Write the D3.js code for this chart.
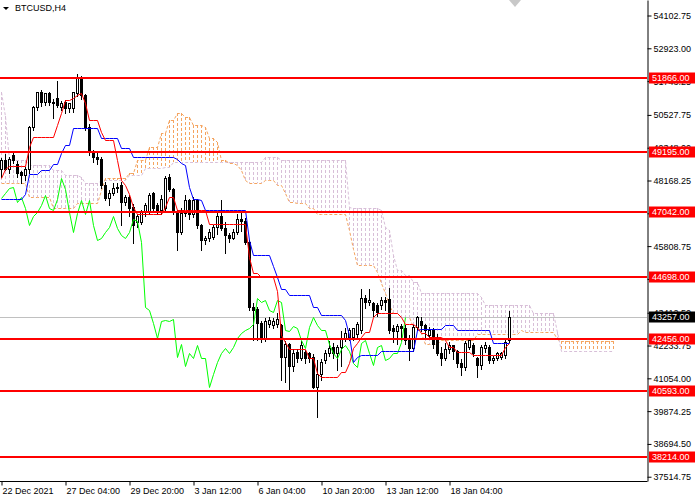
<!DOCTYPE html>
<html>
<head>
<meta charset="utf-8">
<script src="https://cdn.jsdelivr.net/npm/d3@7"></script>
<style>
  body { margin: 0; background: #fff; }
  svg { display: block; font-family: "Liberation Sans", Arial, sans-serif; }
</style>
</head>
<body>
<svg id="chart" width="700" height="500"></svg>
<script>
// BTCUSD H4 candles (bar 0 = 22 Dec 2021 00:00)
const opens = [48600,48900,48600,49080,48780,48480,48370,48600,50100,50820,51360,51000,51300,51000,51120,50830,51000,50760,50760,51300,
  51840,51240,50100,49150,49030,48960,48010,47530,47710,47890,48010,47410,47590,47230,46690,46690,47050,47050,47710,47290,
  47110,47170,48300,47880,47050,46330,47000,47460,46950,47460,46570,46030,46090,46150,46500,46900,46450,46200,46100,46300,
  46800,46700,45970,43630,43540,43030,42490,43000,42970,43000,42970,41830,42300,41500,42010,41770,42010,41950,41830,40750,
  41200,41710,41950,42190,41950,42190,42490,42550,42550,42650,42790,43930,43810,43750,43690,43690,43870,43900,42850,42760,
  42950,42850,42450,42130,42900,43100,42970,42610,42790,42500,41950,41770,42100,42250,42050,41600,41470,42190,42250,41770,
  41530,42130,42190,41710,41770,41830,41890,42430];
const highs = [49000,49150,49050,49250,48900,48550,48700,50150,50900,51400,51450,51350,51400,51150,51800,51050,51100,51000,51400,52050,
  51950,51300,50250,49300,49260,49050,48150,47850,48100,48100,48150,47700,47700,47350,47000,47150,47400,47750,47800,47400,
  47700,48370,48450,47950,47150,47200,47700,47550,47600,47550,46650,46200,46450,46600,47050,47520,46700,46300,46450,47000,
  47050,46850,46050,43800,43650,43150,43250,43300,43250,43450,43050,42450,42350,42150,42150,42450,42100,42050,41950,41750,
  41800,42100,42450,42350,42300,42800,42900,42900,42900,43100,44290,44100,44290,43850,43800,44000,44000,44350,43000,43050,
  43050,43000,42650,43000,43330,43300,43050,42950,42900,42700,42200,42350,42400,42300,42100,41800,42450,42550,42350,41850,
  42300,42400,42300,41900,42050,42050,42500,43510];
const lows = [48300,48550,48450,48800,48300,48070,48200,48450,50000,50700,50850,50900,50900,50400,50800,50700,50600,50650,50650,51200,
  51100,50000,49100,48850,48780,47900,47450,47280,47650,47750,46570,47300,46900,45910,46500,46600,46900,46950,47050,46950,
  46950,47050,47800,46950,45670,46250,46900,46800,46850,46450,45660,45900,46000,46050,46250,46400,45550,45950,46050,46250,
  46350,45900,43500,42430,42430,42350,42400,42900,42850,42900,40990,40930,40630,41300,41650,41700,41600,41650,40700,39670,
  41000,41600,41850,41800,41350,41500,42400,42450,42450,42550,42700,43600,43700,43300,43300,43550,43500,42700,42350,42300,
  42450,42300,41710,42050,42800,42750,42500,42500,42150,41900,41550,41700,41950,41750,41450,41170,41350,42100,41850,41110,
  41400,42000,41600,41600,41700,41750,41800,42350];
const closes = [48900,48600,48950,48900,48430,48370,48600,50100,50820,51360,51000,51300,51000,50950,50880,50950,50760,50950,51360,51840,
  51240,50100,49200,49030,48960,48010,47530,47710,47890,47950,47410,47590,47170,46570,46900,47050,47290,47650,47170,47110,
  47500,48250,47880,47050,46330,47000,47460,46950,47460,46570,46030,46090,46300,46500,46900,46450,46200,46100,46300,46800,
  46700,45970,43630,43520,43030,42490,43100,43150,43120,43170,41830,42300,41500,41950,41770,42250,41770,41770,40750,41200,
  41650,41950,42130,41950,42190,42490,42670,42790,42850,43000,43930,43810,43870,43510,43450,43870,43800,42800,42760,42950,
  42850,42450,42130,42900,43270,42970,42790,42790,42300,41950,41770,42100,42250,42050,41600,41470,42310,42430,41950,41530,
  42190,42250,41710,41770,41950,41950,42370,43257];

// Ichimoku lines as [bar, value] steps
const tenkanSteps = [[0,48250],[1,48600],[2,48700],[7,49380],[8,49740],[14,50160],[15,50600],[16,51060],[18,51120],[19,51240],
  [20,51300],[21,50940],[22,50340],[25,49920],[26,49620],[29,48900],[30,48180],[31,48000],[32,47700],[33,47220],[34,46980],
  [41,47220],[42,47580],[44,47100],[52,46620],[62,45420],[63,44830],[65,44710],[69,44200],[70,42600],[71,42350],[72,42100],
  [77,41770],[79,41230],[80,41110],[85,41290],[87,41590],[88,42130],[89,42310],[90,42550],[91,42730],[93,43270],[94,43390],
  [100,43270],[101,43000],[104,42900],[105,42670],[107,42550],[111,42420],[112,42190],[114,42010],[118,41890],[126,42190],[127,42310]];
const kijunSteps = [[0,47520],[6,47700],[7,48420],[10,48540],[13,48780],[15,49140],[16,49440],[18,50040],[25,49680],[30,49320],
  [33,49020],[44,48960],[45,48800],[46,48720],[47,47940],[48,47520],[50,47460],[51,47100],[62,46020],[63,45490],[68,45100],
  [69,44700],[70,44250],[72,44050],[78,43630],[80,43330],[86,43150],[87,42600],[88,41650],[89,41830],[90,41890],[95,42040],
  [104,42790],[105,42820],[111,42970],[114,42790],[123,42310]];
const spanASteps = [[0,48070],[7,47590],[13,47170],[19,47350],[25,47830],[26,48250],[32,48430],[34,48900],[37,49380],[40,49860],
  [42,50340],[44,50580],[46,50460],[48,50160],[51,50100],[52,49680],[54,49560],[55,48900],[57,48790],[59,48730],[60,48550],
  [61,48190],[62,48070],[66,48190],[69,48010],[71,47710],[72,47410],[74,47350],[77,47170],[79,46950],[87,46400],[88,45700],
  [89,45130],[94,44890],[95,44470],[96,44110],[97,43700],[98,43390],[100,43270],[103,42900],[105,42670],[106,42300],[110,42450],
  [119,42650],[130,42790],[131,42710],[139,42480],[140,42400]];
const spanBSteps = [[0,51360],[1,50500],[2,48900],[7,48730],[13,48550],[16,48370],[20,48310],[21,48070],[25,48190],[32,48370],
  [36,48610],[41,48670],[43,48850],[66,49030],[70,48910],[87,47230],[88,47170],[95,47110],[96,46510],[97,46390],[98,45500],
  [99,44950],[101,44770],[103,44530],[105,44110],[120,43990],[121,43690],[133,43390],[139,42730],[140,42040]];
const chikouShift = 26;
const cloudBars = 154;

const levels = [51866, 49195, 47042, 44698, 42456, 40593, 38214];
const bidPrice = 43257;
const priceTicks = [54102.75, 52923.00, 51743.25, 50527.75, 49348.00, 48168.25, 46988.50, 45808.75,
  44629.00, 43412.50, 42233.75, 41054.00, 39874.25, 38694.50, 37514.75];
const timeTickBars = [0, 16, 32, 48, 64, 80, 96, 112];
const timeTickLabels = ['22 Dec 2021', '27 Dec 04:00', '29 Dec 20:00', '3 Jan 12:00',
  '6 Jan 04:00', '10 Jan 20:00', '13 Jan 12:00', '18 Jan 04:00'];

function expand(steps, n) {
  const out = [];
  let k = 0;
  for (let i = 0; i < n; i++) {
    while (k + 1 < steps.length && steps[k + 1][0] <= i) k++;
    out.push(steps[k][1]);
  }
  return out;
}

const tenkan = expand(tenkanSteps, closes.length);
const kijun = expand(kijunSteps, closes.length);
const spanA = expand(spanASteps, cloudBars);
const spanB = expand(spanBSteps, cloudBars);
const chikou = closes.slice(chikouShift);

const plotW = 647, plotH = 481;
const x = d3.scaleLinear().domain([0, 161.5]).range([1, plotW]);
const y = d3.scaleLinear().domain([37361.3, 54660.5]).range([plotH, 0]);
const cx = i => Math.round(x(i)) + 0.5;
const cy = v => Math.round(y(v)) + 0.5;
const ORANGE = '#f4a460', THISTLE = '#d8bfd8';

const svg = d3.select('#chart');
svg.append('rect').attr('width', 700).attr('height', 500).attr('fill', '#fff');

svg.append('clipPath').attr('id', 'plot')
  .append('rect').attr('width', plotW).attr('height', plotH);
const plot = svg.append('g').attr('clip-path', 'url(#plot)');

// cloud hatching, one dashed stroke per bar between span A and span B
// (end points on whole pixels so the dashes stay sharp)
const cloud = plot.append('g').attr('stroke-width', 1).attr('stroke-dasharray', '3,2');
cloud.selectAll('line').data(d3.range(cloudBars)).join('line')
  .attr('x1', cx).attr('x2', cx)
  .attr('y1', i => Math.round(y(Math.max(spanA[i], spanB[i]))))
  .attr('y2', i => Math.round(y(Math.min(spanA[i], spanB[i]))))
  .attr('stroke', i => spanA[i] > spanB[i] ? ORANGE : THISTLE);

const line = d3.line().x((d, i) => cx(i)).y(d => cy(d));
plot.append('path').attr('d', line(spanB)).attr('fill', 'none')
  .attr('stroke', THISTLE).attr('stroke-dasharray', '3,2');
plot.append('path').attr('d', line(spanA)).attr('fill', 'none')
  .attr('stroke', ORANGE).attr('stroke-dasharray', '3,2');

// bid line
plot.append('line').attr('x1', 0).attr('x2', plotW)
  .attr('y1', cy(bidPrice)).attr('y2', cy(bidPrice)).attr('stroke', '#c0c0c0');

// candles
const bars = plot.append('g').attr('shape-rendering', 'crispEdges')
  .selectAll('g').data(d3.range(closes.length)).join('g');
bars.append('line')
  .attr('x1', cx).attr('x2', cx)
  .attr('y1', i => cy(highs[i])).attr('y2', i => cy(lows[i]))
  .attr('stroke', '#000');
bars.append('rect')
  .attr('x', i => cx(i) - 1)
  .attr('width', 2)
  .attr('y', i => cy(Math.max(opens[i], closes[i])))
  .attr('height', i => Math.max(0, cy(Math.min(opens[i], closes[i])) - cy(Math.max(opens[i], closes[i]))))
  .attr('fill', i => closes[i] >= opens[i] ? '#fff' : '#000')
  .attr('stroke', '#000');

// ichimoku lines
plot.append('path').attr('d', line(chikou)).attr('fill', 'none').attr('stroke', '#00ff00');
plot.append('path').attr('d', line(kijun)).attr('fill', 'none').attr('stroke', '#0000ff');
plot.append('path').attr('d', line(tenkan)).attr('fill', 'none').attr('stroke', '#ff0000');

// horizontal levels
plot.selectAll('line.level').data(levels).join('line').attr('class', 'level')
  .attr('x1', 0).attr('x2', plotW)
  .attr('y1', d => Math.round(y(d))).attr('y2', d => Math.round(y(d)))
  .attr('stroke', '#ff0000').attr('stroke-width', 2);

// price axis
const yAxis = d3.axisRight(y).tickValues(priceTicks).tickFormat(d3.format('.2f'))
  .tickSize(4).tickSizeOuter(0).tickPadding(2);
const ya = svg.append('g').attr('transform', `translate(${plotW + 0.5},0)`).call(yAxis);
ya.selectAll('text').attr('font-size', 9).attr('font-family', '"Liberation Sans", Arial, sans-serif').attr('fill', '#000');

// time axis
const xAxis = d3.axisBottom(x).tickValues(timeTickBars).tickFormat((d, k) => timeTickLabels[k])
  .tickSize(4).tickSizeOuter(0);
const xa = svg.append('g').attr('transform', `translate(0,${plotH + 0.5})`).call(xAxis);
xa.select('.domain').attr('d', `M0,0H${plotW + 0.5}`);
xa.selectAll('.tick line').attr('transform', 'translate(0.5,0)');
xa.selectAll('text').attr('font-size', 9).attr('font-family', '"Liberation Sans", Arial, sans-serif')
  .attr('text-anchor', 'start').attr('x', 1).attr('y', 6).attr('fill', '#000');

// price tags for levels and bid, drawn over the axis labels as in the terminal
const tags = levels.map(v => ({ v, bg: '#ff0000' })).concat([{ v: bidPrice, bg: '#000' }]);
const tg = svg.append('g').selectAll('g').data(tags).join('g')
  .attr('transform', d => `translate(649,${Math.round(y(d.v))})`);
tg.append('rect').attr('x', 0).attr('y', -5.5).attr('width', 46).attr('height', 11).attr('fill', d => d.bg);
tg.append('text').attr('x', 3).attr('dy', '0.35em').attr('font-size', 9).attr('fill', '#fff')
  .text(d => d3.format('.2f')(d.v));

// title and shift marker
svg.append('path').attr('d', d3.line()([[3, 7], [9, 7], [6, 10]]) + 'Z').attr('fill', '#000');
svg.append('text').attr('x', 15).attr('y', 11).attr('font-size', 9).attr('fill', '#000').text('BTCUSD,H4');
const sx = x(128.5);
svg.append('path').attr('d', d3.line()([[sx - 6, 0], [sx + 6, 0], [sx, 7]]) + 'Z').attr('fill', '#c8c8c8');
</script>
</body>
</html>
